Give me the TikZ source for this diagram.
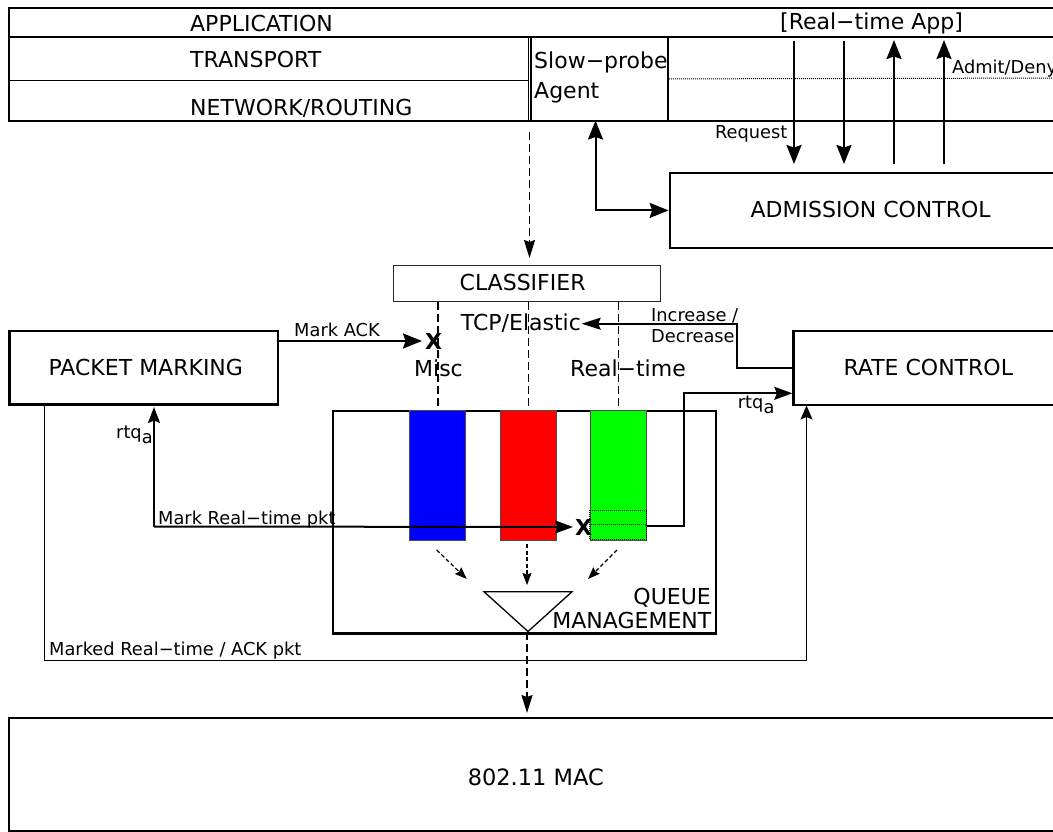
\documentclass[tikz,border=0pt]{standalone}
\usepackage{fontspec}
\setmainfont{DejaVu Sans}
\usetikzlibrary{arrows.meta}
\begin{document}
\begin{tikzpicture}[x=1pt,y=-1pt,
  >={Stealth[length=19pt,width=15pt,inset=2.5pt]},
  big/.style={font=\fontsize{22}{25}\selectfont, inner sep=0pt},
  small/.style={font=\fontsize{17.8}{21}\selectfont, inner sep=0pt},
  boxn/.style={draw, rectangle, inner sep=0pt, anchor=north west, line width=2.2pt},
  conn/.style={line width=2pt},
  arr/.style={conn, ->},
  barr/.style={conn, <->},
  darr/.style={line width=1.6pt, dash pattern=on 8pt off 4pt, -{Stealth[length=18pt,width=11pt,inset=2pt]}},
  dl/.style={line width=1.6pt, dash pattern=on 8pt off 4pt},
  sarr/.style={line width=1.2pt, dash pattern=on 4pt off 2.5pt, -{Stealth[length=12pt,width=9pt,inset=1.5pt]}},
  qrect/.style={draw=black!70, line width=1pt, rectangle, inner sep=0pt, anchor=north west, minimum width=56pt, minimum height=130pt},
  xmark/.style={font=\fontsize{22}{24}\selectfont\bfseries, inner sep=0pt, anchor=base},
]
\useasboundingbox (0,0) rectangle (1053,831);

% ---------- protocol stack ----------
\node[boxn, minimum width=1062pt, minimum height=113pt] (stack) at (8,6.5) {};
\draw[line width=2pt] (8,36.5) -- (1075,36.5);
\node[boxn, line width=1.8pt, minimum width=519.5pt, minimum height=83pt] (tn) at (8,36.5) {};
\draw[line width=1.4pt] (8,80.5) -- (527.5,80.5);
\node[boxn, line width=1.8pt, minimum width=137pt, minimum height=83pt] (agent) at (530,36.5) {};
\coordinate (dotend) at (1075,78);
\draw[line width=1pt, densely dotted] (agent.east) -- (dotend);

\node[big, anchor=base west] at (190,31.7) {APPLICATION};
\node[big, anchor=base west] at (190,67.8) {TRANSPORT};
\node[big, anchor=base west] at (190,115.5) {NETWORK/ROUTING};
\node[big, anchor=base west] at (534,68) {Slow−probe};
\node[big, anchor=base west] at (534,98.5) {Agent};
\node[big, anchor=base west] at (780,29) {[Real−time App]};
\node[small, anchor=base west] at (952,73.3) {Admit/Deny};
\node[small, anchor=base east] at (787.5,138) {Request};

% ---------- admission control ----------
\node[boxn, minimum width=405pt, minimum height=75pt] (adm) at (668.6,171.8) {};
\node[big, anchor=base] at (870.7,217) {ADMISSION CONTROL};

\coordinate (r1t) at (794,41);  \coordinate (r1b) at (794,164);
\coordinate (r2t) at (844,41);  \coordinate (r2b) at (844,164);
\coordinate (a1t) at (894,40);  \coordinate (a1b) at (894,164);
\coordinate (a2t) at (944,40);  \coordinate (a2b) at (944,164);
\draw[arr] (r1t) -- (r1b);
\draw[arr] (r2t) -- (r2b);
\draw[arr] (a1b) -- (a1t);
\draw[arr] (a2b) -- (a2t);

\coordinate (ag) at (595.5,120.5);
\draw[barr] (ag) |- (adm.west);

% ---------- classifier ----------
\node[boxn, line width=1.3pt, draw=black!85, minimum width=267.4pt, minimum height=36pt] (cls) at (392.6,264.6) {};
\node[big, anchor=base] at (522.6,290) {CLASSIFIER};
\coordinate (d0) at (529.5,132);
\coordinate (d1) at (529.5,258);
\draw[darr] (d0) -- (d1);

% ---------- queue management ----------
\node[boxn, minimum width=383.3pt, minimum height=222.3pt] (qm) at (331.7,410) {};
\node[qrect, fill={rgb,255:red,0;green,0;blue,255}] (qb) at (409.3,409.5) {};
\node[qrect, fill={rgb,255:red,255;green,0;blue,0}] (qr) at (500,409.5) {};
\node[qrect, fill={rgb,255:red,0;green,255;blue,0}] (qg) at (590,409.5) {};
\draw[densely dotted, line width=1pt] (589.3,510) rectangle (646.5,539.5);
\draw[densely dotted, line width=1pt] (589.3,524.3) -- (646.5,524.3);

\draw[dl] (qb.north |- cls.south) -- (qb.north);
\draw[dl] (qr.north |- cls.south) -- (qr.north);
\draw[dl] (qg.north |- cls.south) -- (qg.north);

\coordinate (t1) at (484,591.7);
\coordinate (t2) at (572,591.7);
\coordinate (tb) at (528,631.5);
\draw[line width=1.3pt] (t1) -- (t2) -- (tb) -- cycle;

\coordinate (s1a) at (436.7,550); \coordinate (s1b) at (466.7,579);
\coordinate (s2a) at (527,544);   \coordinate (s2b) at (527,585);
\coordinate (s3a) at (617,550);   \coordinate (s3b) at (588,579);
\draw[sarr] (s1a) -- (s1b);
\draw[sarr] (s2a) -- (s2b);
\draw[sarr] (s3a) -- (s3b);

\node[big, anchor=base east] at (711,604) {QUEUE};
\node[big, anchor=base east] at (711.5,628) {MANAGEMENT};

% ---------- labels around classifier ----------
\node[big, anchor=base] at (520.9,330) {TCP/Elastic};
\node[big, anchor=base] at (438.5,376) {Misc};
\node[big, anchor=base] at (628,376) {Real−time};

% ---------- packet marking ----------
\node[boxn, minimum width=268.4pt, minimum height=73.3pt] (pm) at (8.3,330) {};
\node[big, anchor=base] at (145.8,375) {PACKET MARKING};

\node[xmark] (x1) at (433.7,349) {X};
\draw[arr, shorten >=3pt] (pm.east |- x1) -- (x1.west);
\node[small, anchor=base] at (337,336) {Mark ACK};

% ---------- rate control ----------
\node[boxn, minimum width=280pt, minimum height=74pt] (rc) at (792.3,330) {};
\node[big, anchor=base] at (928.3,375) {RATE CONTROL};

\coordinate (incv) at (737,323.7);
\coordinate (inc) at (581.7,323.7);
\draw[line width=1.6pt, -{Stealth[length=19pt,width=12pt,inset=2.5pt]}] (rc.west) -| (incv) -- (inc);
\node[small, anchor=base west] at (651,321) {Increase /};
\node[small, anchor=base west] at (651,342) {Decrease};

% rtq_a to rate control
\coordinate (gq) at (646.5,526);
\coordinate (gv) at (684,393.3);
\coordinate (rcin) at (792.3,393.3);
\draw[conn, -{Stealth[length=18pt,width=13pt,inset=2.5pt]}] (gq) -| (gv) -- (rcin);
\node[small, anchor=base west] at (737.7,408) {rtq\raisebox{-0.3em}{a}};

% Mark real-time pkt
\node[xmark] (x2) at (583.7,535) {X};
\coordinate (mk) at (154,526.5);
\coordinate (mkup) at (154,407);
\draw[conn, -{Stealth[length=18pt,width=13pt,inset=2.5pt]}, shorten >=2pt] (mk) -- (x2.west);
\draw[conn, -{Stealth[length=16pt,width=12pt,inset=2.5pt]}] (mk) -- (mkup);
\node[small, anchor=base west] at (158,524) {Mark Real−time pkt};
\node[small, anchor=base west] at (116,438) {rtq\raisebox{-0.3em}{a}};

% Marked real-time / ACK pkt
\coordinate (m0) at (44.5,403.3);
\coordinate (m1) at (806.5,660.5);
\coordinate (m2) at (806.5,405.5);
\draw[line width=1.5pt, -{Stealth[length=14pt,width=12pt,inset=2.5pt]}] (m0) |- (m1) -- (m2);
\node[small, anchor=base west] at (49,655) {Marked Real−time / ACK pkt};

% ---------- MAC ----------
\node[boxn, minimum width=1060pt, minimum height=113pt] (mac) at (8,717) {};
\node[font=\fontsize{22.5}{26}\selectfont, inner sep=0pt, anchor=base] at (535.8,785) {802.11 MAC};
\coordinate (mac0) at (527,632);
\coordinate (mac1) at (527,713);
\draw[darr] (mac0) -- (mac1);

\end{tikzpicture}
\end{document}
